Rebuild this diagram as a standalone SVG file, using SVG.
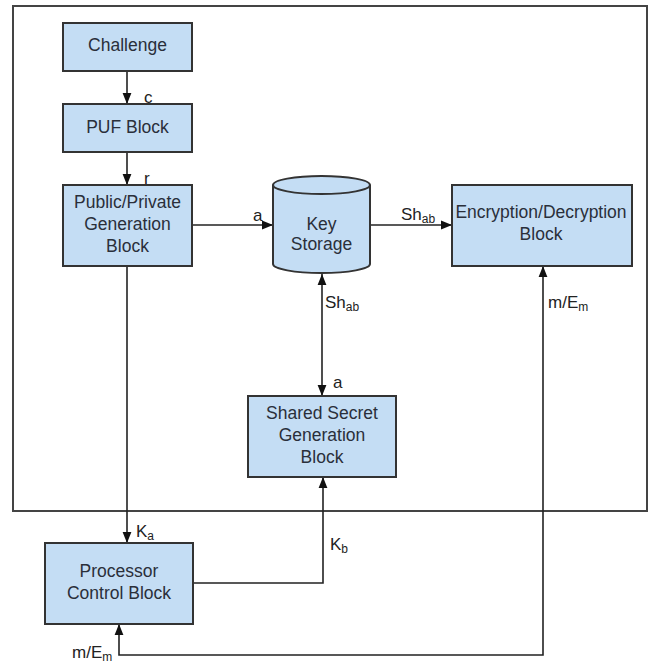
<svg xmlns="http://www.w3.org/2000/svg" width="652" height="666" viewBox="0 0 652 666">
<defs>
<style>
.box{fill:#c4ddf4;stroke:#333;stroke-width:2}
.t{font-family:"Liberation Sans",Arial,sans-serif;font-size:17.5px;fill:#2a2f3a;text-anchor:middle}
.l{font-family:"Liberation Sans",Arial,sans-serif;font-size:17px;fill:#222}
.s{font-size:12px}
.c{fill:none;stroke:#222;stroke-width:1.6}
</style>
<marker id="ah" viewBox="0 0 10 10" refX="10" refY="5" markerWidth="11" markerHeight="11" markerUnits="userSpaceOnUse" orient="auto-start-reverse">
<path d="M0,1 L10,5 L0,9 Z" fill="#111"/>
</marker>
</defs>
<rect x="0" y="0" width="652" height="666" fill="#fff"/>
<rect id="outer" x="13" y="6" width="634" height="505" fill="none" stroke="#444" stroke-width="2"/>

<g id="connectors">
<line class="c" x1="127" y1="71" x2="127" y2="104" marker-end="url(#ah)"/>
<line class="c" x1="127" y1="152" x2="127" y2="185" marker-end="url(#ah)"/>
<line class="c" x1="192" y1="225" x2="273" y2="225" marker-end="url(#ah)"/>
<line class="c" x1="370" y1="225" x2="452" y2="225" marker-end="url(#ah)"/>
<line class="c" x1="322" y1="274" x2="322" y2="396" marker-start="url(#ah)" marker-end="url(#ah)"/>
<line class="c" x1="127" y1="266" x2="127" y2="543" marker-end="url(#ah)"/>
<polyline class="c" points="193,583 323,583 323,477" marker-end="url(#ah)"/>
<polyline class="c" points="119,624 119,655 543,655 543,266" marker-start="url(#ah)" marker-end="url(#ah)"/>
<text class="l" x="144" y="103">c</text>
<text class="l" x="144" y="184">r</text>
<text class="l" x="253" y="221">a</text>
<text class="l" x="401" y="220">Sh<tspan class="s" dy="3">ab</tspan></text>
<text class="l" x="325" y="308">Sh<tspan class="s" dy="3">ab</tspan></text>
<text class="l" x="333" y="388">a</text>
<text class="l" x="136" y="537">K<tspan class="s" dy="3">a</tspan></text>
<text class="l" x="330" y="550">K<tspan class="s" dy="3">b</tspan></text>
<text class="l" x="548" y="308">m/E<tspan class="s" dy="3">m</tspan></text>
<text class="l" x="72" y="658">m/E<tspan class="s" dy="3">m</tspan></text>
</g>

<g id="challenge">
<rect class="box" x="63" y="23" width="129" height="48"/>
<text class="t" x="127.5" y="51">Challenge</text>
</g>
<g id="puf">
<rect class="box" x="63" y="104" width="129" height="48"/>
<text class="t" x="127.5" y="133">PUF Block</text>
</g>
<g id="pubpriv">
<rect class="box" x="63" y="185" width="129" height="81"/>
<text class="t" x="127.5" y="208">Public/Private</text>
<text class="t" x="127.5" y="230">Generation</text>
<text class="t" x="127.5" y="252">Block</text>
</g>
<g id="keystorage">
<path class="box" d="M273,185 A48.5,9 0 0 1 370,185 L370,264 A48.5,9 0 0 1 273,264 Z"/>
<path d="M273,185 A48.5,9 0 0 0 370,185" fill="none" stroke="#333" stroke-width="2"/>
<text class="t" x="321.5" y="230">Key</text>
<text class="t" x="321.5" y="250">Storage</text>
</g>
<g id="encdec">
<rect class="box" x="452" y="185" width="180" height="81"/>
<text class="t" x="541" y="218">Encryption/Decryption</text>
<text class="t" x="541" y="240">Block</text>
</g>
<g id="shared">
<rect class="box" x="248" y="396" width="148" height="81"/>
<text class="t" x="322" y="419">Shared Secret</text>
<text class="t" x="322" y="441">Generation</text>
<text class="t" x="322" y="463">Block</text>
</g>
<g id="processor">
<rect class="box" x="45" y="543" width="148" height="81"/>
<text class="t" x="119" y="577">Processor</text>
<text class="t" x="119" y="599">Control Block</text>
</g>
</svg>
